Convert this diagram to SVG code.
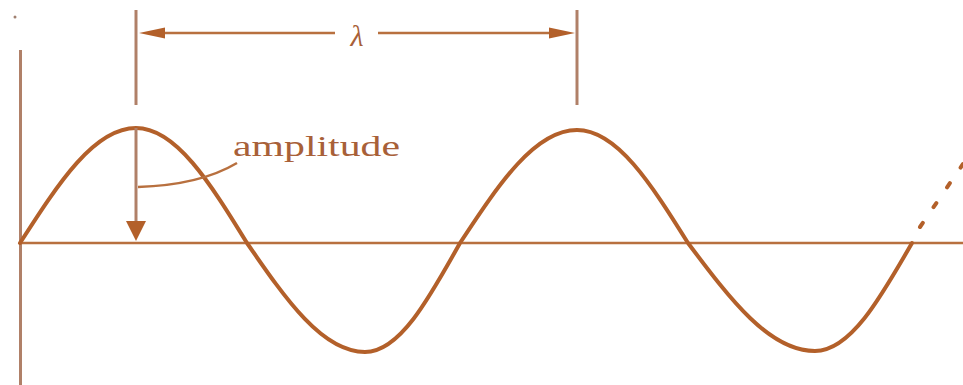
<svg xmlns="http://www.w3.org/2000/svg" width="963" height="385" viewBox="0 0 963 385">
<style>
.wave{fill:none;stroke:#b3602a;stroke-width:4;stroke-linecap:round}
.ln{fill:none;stroke:#b8703f;stroke-width:2.5}
.ax{fill:none;stroke:#b08068;stroke-width:3}
.head{fill:#b3602a}
.lbl{font-family:"Liberation Serif","DejaVu Serif",serif;fill:#a86038}
</style>
<rect width="963" height="385" fill="#ffffff"/>
<circle cx="15" cy="17" r="1.5" fill="#a08070"/>
<g id="axes">
<line class="ax" x1="20.5" y1="50" x2="20.5" y2="385"/>
<line class="ln" x1="20" y1="243" x2="963" y2="243"/>
</g>
<g id="wave">
<path class="wave" d="M20,243 C58.8,182.6 94.3,128 136,128 C175.9,128 209.9,182.6 247,243 C286.4,300.2 322.5,352 365,352 C399.2,352 428.2,300.2 460,243 C499.1,183.7 534.9,130 577,130 C616.9,130 650.9,183.7 688,243 C730.5,299.7 769.3,351 815,351 C849.9,351 879.6,299.7 912,243"/>
<path class="wave" d="M920,227 L963,164" stroke-dasharray="5 19"/>
</g>
<g id="connectors">
<line class="ax" x1="136" y1="10" x2="136" y2="105"/>
<line class="ax" x1="577" y1="10" x2="577" y2="105"/>
<line class="ln" x1="150" y1="33" x2="335" y2="33"/>
<line class="ln" x1="378" y1="33" x2="565" y2="33"/>
<polygon class="head" points="139,33 165,27.5 165,38.5"/>
<polygon class="head" points="575,33 549,27.5 549,38.5"/>
<line class="ax" x1="136" y1="128" x2="136" y2="225"/>
<polygon class="head" points="136,241 126,221 146,221"/>
<path class="ln" d="M138,187 Q200,185 237,163"/>
</g>
<g id="labels">
<text class="lbl" x="357" y="46" font-size="30" font-style="italic" text-anchor="middle">λ</text>
<text class="lbl" x="233" y="156" font-size="30" textLength="167" lengthAdjust="spacingAndGlyphs">amplitude</text>
</g>
</svg>
